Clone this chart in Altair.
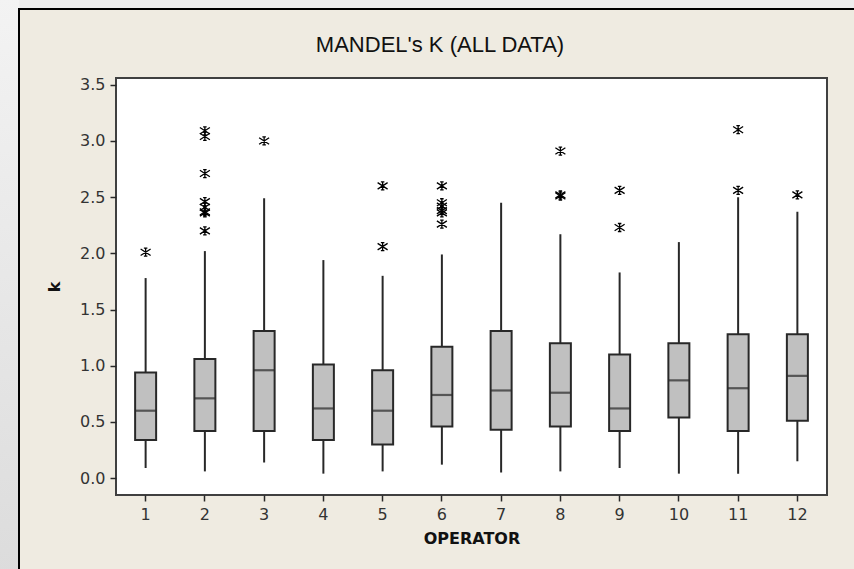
import altair as alt
import pandas as pd

# ---- data ----
title_text = "MANDEL's K (ALL DATA)"
operators = [1, 2, 3, 4, 5, 6, 7, 8, 9, 10, 11, 12]
whisker_low = [0.09, 0.06, 0.14, 0.04, 0.06, 0.12, 0.05, 0.06, 0.09, 0.04, 0.04, 0.15]
q1 = [0.34, 0.42, 0.42, 0.34, 0.30, 0.46, 0.43, 0.46, 0.42, 0.54, 0.42, 0.51]
median = [0.60, 0.71, 0.96, 0.62, 0.60, 0.74, 0.78, 0.76, 0.62, 0.87, 0.80, 0.91]
q3 = [0.94, 1.06, 1.31, 1.01, 0.96, 1.17, 1.31, 1.20, 1.10, 1.20, 1.28, 1.28]
whisker_high = [1.78, 2.02, 2.49, 1.94, 1.80, 1.99, 2.45, 2.17, 1.83, 2.10, 2.50, 2.37]

outlier_op = [1,
              2, 2, 2, 2, 2, 2, 2, 2,
              3,
              5, 5,
              6, 6, 6, 6, 6, 6,
              8, 8, 8,
              9, 9,
              11, 11,
              12]
outlier_k = [2.01,
             3.09, 3.04, 2.71, 2.46, 2.41, 2.37, 2.36, 2.20,
             3.00,
             2.60, 2.06,
             2.60, 2.45, 2.42, 2.38, 2.36, 2.26,
             2.91, 2.52, 2.51,
             2.56, 2.23,
             3.10, 2.56,
             2.52]

y_ticks = [0.0, 0.5, 1.0, 1.5, 2.0, 2.5, 3.0, 3.5]

W, H = 711, 417
BOX_W = 21
DARK = "#282828"

stats = pd.DataFrame({
    "OPERATOR": operators, "low": whisker_low, "q1": q1,
    "median": median, "q3": q3, "high": whisker_high,
})
outl = pd.DataFrame({"OPERATOR": outlier_op, "k": outlier_k})
one = pd.DataFrame({"a": [0]})
title_df = pd.DataFrame({"t": [title_text]})

xenc = alt.X("OPERATOR:O",
             scale=alt.Scale(paddingInner=0, paddingOuter=0),
             axis=alt.Axis(title="OPERATOR", labelAngle=0, zindex=1,
                           titleFont="DejaVu Sans", titleFontWeight="bold",
                           titleFontSize=16, titleColor="#111111",
                           titlePadding=8))
yscale = alt.Scale(domain=[-0.15, 3.56], nice=False, zero=False)
yaxis = alt.Axis(title="k", values=y_ticks, format=".1f", zindex=1,
                 titleFont="DejaVu Sans", titleFontWeight="bold",
                 titleFontSize=16, titleColor="#111111", titlePadding=17)

# background decorations
strip = alt.Chart(one).mark_rect(
    fill=alt.Gradient(gradient="linear",
                      stops=[alt.GradientStop(color="#F3F3F3", offset=0),
                             alt.GradientStop(color="#DCDCDC", offset=1)],
                      x1=0, x2=0, y1=0, y2=1)
).encode(x=alt.value(-120), x2=alt.value(-97), y=alt.value(-80), y2=alt.value(H + 80))

panel = alt.Chart(one).mark_rect(
    fill="#EFEBE1", stroke="#000000", strokeWidth=2
).encode(x=alt.value(-97), x2=alt.value(W + 60), y=alt.value(-69), y2=alt.value(H + 90))

plotbg = alt.Chart(one).mark_rect(
    fill="#FFFFFF", stroke="#404040", strokeWidth=2
).encode(x=alt.value(0), x2=alt.value(W), y=alt.value(0), y2=alt.value(H))

title_mark = alt.Chart(title_df).mark_text(
    font="Liberation Sans", fontSize=22, color="#111111",
    align="center", baseline="alphabetic"
).encode(x=alt.value(324), y=alt.value(-26), text="t:N")

base = alt.Chart(stats)

whisk = base.mark_rule(color=DARK, strokeWidth=2).encode(
    x=xenc,
    y=alt.Y("low:Q", scale=yscale, axis=yaxis),
    y2="high:Q",
)
box = base.mark_bar(size=BOX_W, fill="#C0C0C0", stroke=DARK, strokeWidth=2).encode(
    x=xenc,
    y=alt.Y("q1:Q", scale=yscale, axis=yaxis),
    y2="q3:Q",
)
med = base.mark_tick(size=BOX_W, thickness=2.2, color=DARK).encode(
    x=xenc,
    y=alt.Y("median:Q", scale=yscale, axis=yaxis),
)

star_path = ("M0,-0.8L0,0.8M-1,-0.65L1,0.65M-1,0.65L1,-0.65"
             "M-0.35,-0.8L0.35,-0.8M-0.35,0.8L0.35,0.8")
pts = alt.Chart(outl).mark_point(
    shape=star_path, size=100, filled=False, color="#000000", strokeWidth=1.3, opacity=1
).encode(
    x=xenc,
    y=alt.Y("k:Q", scale=yscale, axis=yaxis),
)

chart = alt.layer(strip, panel, plotbg, title_mark, whisk, box, med, pts).properties(
    width=W, height=H,
    autosize=alt.AutoSizeParams(type="none"),
    padding={"left": 116, "top": 78, "right": 27, "bottom": 74},
).configure(background="#EEEEEE").configure_view(
    strokeOpacity=0
).configure_axis(
    grid=False, domain=False, tickSize=6, tickColor=DARK, tickWidth=1.5,
    labelFont="DejaVu Sans", labelFontSize=16, labelColor="#333333",
    labelPadding=5,
)

chart.save("out.html", embed_options={"renderer": "svg", "actions": False})
